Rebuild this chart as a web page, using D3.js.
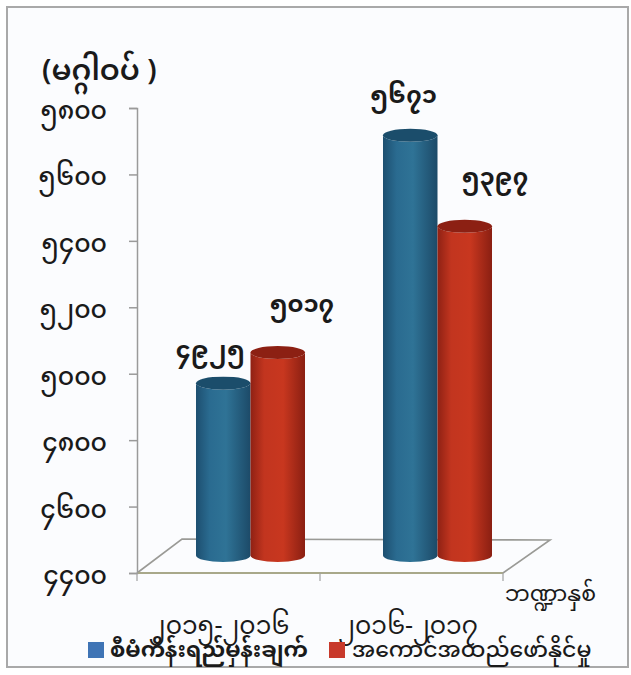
<!DOCTYPE html>
<html><head><meta charset="utf-8">
<script src="https://cdnjs.cloudflare.com/ajax/libs/d3/7.8.5/d3.min.js"></script>
<style>html,body{margin:0;padding:0;background:#fff}svg{display:block}
text{font-family:"Noto Sans Myanmar","Padauk","Myanmar Text","Noto Sans","DejaVu Sans",sans-serif;fill:#1a1a1a}</style>
</head><body><svg id="c" width="631" height="675"></svg>
<script>
const categories = ["၂၀၁၅-၂၀၁၆", "၂၀၁၆-၂၀၁၇"];
const seriesNames = ["စီမံကိန်းရည်မှန်းချက်", "အကောင်အထည်ဖော်နိုင်မှု"];
const planned = [4925, 5671];
const actual = [5017, 5397];
const tickValues = [4400, 4600, 4800, 5000, 5200, 5400, 5600, 5800];
const yTitle = "(မဂ္ဂါဝပ် )";
const xTitle = "ဘဏ္ဍာနှစ်";

const mm = n => String(n).replace(/\d/g, d => "၀၁၂၃၄၅၆၇၈၉"[+d]);
const svg = d3.select("#c");
const defs = svg.append("defs");
function grad(id, stops){
  const g = defs.append("linearGradient").attr("id", id);
  stops.forEach(([o,c]) => g.append("stop").attr("offset", o).attr("stop-color", c));
}
grad("gb", [[0,"#1d4f70"],[.25,"#2a6b90"],[.55,"#2f7396"],[1,"#1c4a68"]]);
grad("gr", [[0,"#8f2114"],[.25,"#c2351f"],[.6,"#c8371f"],[1,"#8a1f12"]]);

svg.append("rect").attr("width",631).attr("height",675).attr("fill","#fff");
svg.append("rect").attr("x",7).attr("y",7).attr("width",621).attr("height",660)
  .attr("fill","#fbfcfe").attr("stroke","#a9a9a9").attr("stroke-width",2);

const y = d3.scaleLinear().domain([4400,5800]).range([573,108]);
const x = d3.scaleBand().domain(categories).range([137,511]);
const depthX = 20, depthY = 15.5, baseLift = 17.5, barW = 54.5, rY = 6.5;
const sub = d3.scaleBand().domain([0,1]).range([x.bandwidth()/2-barW, x.bandwidth()/2+barW]);
const floorEnd = 503;

// floor outline (open, no fill)
const floorLine = d3.line();
svg.append("path").attr("fill","none").attr("stroke","#9a9a96").attr("stroke-width",1.6)
  .attr("d", floorLine([[137,y(4400)],[182,y(4400)-34],[550,y(4400)-33],[floorEnd,y(4400)]]));
svg.append("line").attr("x1",137).attr("x2",floorEnd).attr("y1",y(4400)).attr("y2",y(4400)).attr("stroke","#a8a88a").attr("stroke-width",1.8);

// axes
const ax = svg.append("g").attr("transform","translate(137,0)")
  .call(d3.axisLeft(y).tickValues(tickValues).tickFormat(mm).tickSize(8).tickPadding(22));
ax.selectAll("path,line").attr("stroke","#9a9a9a").attr("stroke-width",1.5);
ax.selectAll("text").attr("font-size",25).attr("font-weight",500).attr("fill","#1a1a1a").attr("dy","0.42em");

const xa = svg.append("g").attr("transform","translate(0,573)")
  .call(d3.axisBottom(x).tickValues([]).tickSizeOuter(0));
xa.select("path").attr("stroke","none");
[137, 320, floorEnd].forEach(px =>
  svg.append("line").attr("x1",px).attr("x2",px).attr("y1",573).attr("y2",581).attr("stroke","#a0a0a0").attr("stroke-width",1.2));

// cylinders
const series = [{v:planned,g:"url(#gb)",t:"#1b4d6b",i:0},{v:actual,g:"url(#gr)",t:"#8c2013",i:1}];
categories.forEach((c,ci) => {
  series.forEach(s => {
    const l = x(c)+sub(s.i)+depthX, w = barW, val = s.v[ci];
    const top = y(val)-depthY, base = y(4400)-baseLift;
    const g = svg.append("g");
    g.append("path").attr("fill",s.g)
      .attr("d",`M${l},${top}V${base}A${w/2},${rY} 0 0 0 ${l+w},${base}V${top}A${w/2},${rY} 0 0 1 ${l},${top}Z`);
    g.append("ellipse").attr("cx",l+w/2).attr("cy",top).attr("rx",w/2).attr("ry",rY).attr("fill",s.t);
  });
});

// value labels: horizontal and vertical offsets from each bar's top
const labelDx = [[-13, 24],[-7, 30]];
const labelDy = [[25, 41],[32, 41]];
categories.forEach((c,ci) => {
  series.forEach(s => {
    const cx = x(c)+sub(s.i)+depthX+barW/2;
    svg.append("text").attr("x", cx + labelDx[ci][s.i])
      .attr("y", y(s.v[ci]) - depthY - labelDy[ci][s.i])
      .attr("text-anchor","middle").attr("font-size",24).attr("font-weight",700).text(mm(s.v[ci]));
  });
});

svg.append("text").attr("x",42).attr("y",80).attr("font-size",29).attr("font-weight",600).text(yTitle);
svg.append("text").attr("x",596).attr("y",601).attr("text-anchor","end").attr("font-size",22).text(xTitle);

categories.forEach((c,i) => {
  svg.append("text").attr("x",[219,408][i]).attr("y",634).attr("text-anchor","middle").attr("font-size",25).text(c);
});
// legend
[[88,"#3f74b5",110,seriesNames[0],700],[329,"#c8392b",352,seriesNames[1],500]].forEach(([lx,col,tx,t,fw]) => {
  svg.append("rect").attr("x",lx).attr("y",642).attr("width",16).attr("height",16).attr("fill",col);
  svg.append("text").attr("x",tx).attr("y",657).attr("font-size",22).attr("font-weight",fw).text(t);
});
</script></body></html>
